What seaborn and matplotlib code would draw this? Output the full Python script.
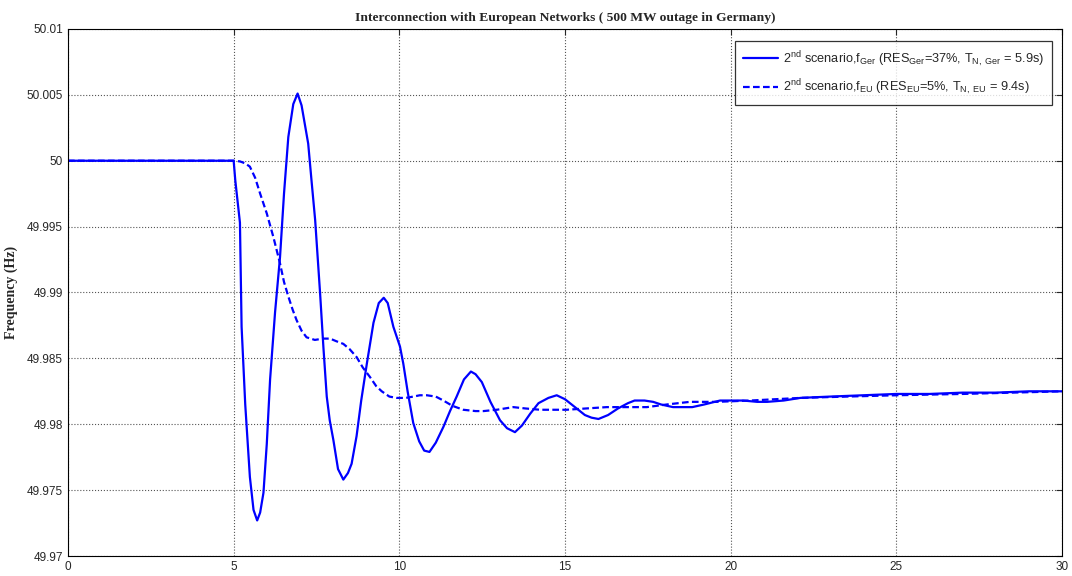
import pandas as pd
import matplotlib
matplotlib.use('Agg')
import matplotlib.pyplot as plt
import seaborn as sns

# time axis (s) and frequency (Hz)
t_ger = [0, 5.0, 5.05, 5.19, 5.24, 5.35, 5.49, 5.6, 5.71, 5.8, 5.9, 6.0, 6.1, 6.25, 6.4, 6.52,
         6.65, 6.8, 6.93, 7.05, 7.25, 7.35, 7.46, 7.61, 7.71, 7.81, 7.9, 8.01, 8.15, 8.31, 8.45,
         8.56, 8.71, 8.85, 9.02, 9.22, 9.38, 9.53, 9.65, 9.82, 10.02, 10.12, 10.25, 10.42, 10.6,
         10.75, 10.91, 11.1, 11.33, 11.53, 11.73, 11.95, 12.16, 12.3, 12.49, 12.75, 13.04, 13.25,
         13.49, 13.7, 13.95, 14.2, 14.5, 14.75, 15.0, 15.3, 15.6, 15.8, 16.01, 16.3, 16.6, 16.9,
         17.1, 17.4, 17.66, 17.9, 18.26, 18.6, 18.84, 19.2, 19.68, 20.38, 20.8, 21.1, 21.6, 22.1,
         23, 24, 25, 26, 27, 28, 29, 30]
f_ger = [50.0, 50.0, 49.9985, 49.9953, 49.9874, 49.9815, 49.9760, 49.9735, 49.9727, 49.9733,
         49.9748, 49.9785, 49.9834, 49.9885, 49.9927, 49.9975, 50.0018, 50.0043, 50.0051, 50.0042,
         50.0013, 49.9985, 49.9955, 49.9899, 49.9858, 49.9821, 49.9803, 49.9788, 49.9766, 49.9758,
         49.9763, 49.9770, 49.9791, 49.9818, 49.9846, 49.9877, 49.9892, 49.9896, 49.9892, 49.9874,
         49.9859, 49.9846, 49.9825, 49.9801, 49.9787, 49.9780, 49.9779, 49.9786, 49.9798, 49.9810,
         49.9821, 49.9834, 49.9840, 49.9838, 49.9832, 49.9817, 49.9803, 49.9797, 49.9794, 49.9799,
         49.9808, 49.9816, 49.9820, 49.9822, 49.9819, 49.9813, 49.9807, 49.9805, 49.9804, 49.9807,
         49.9812, 49.9816, 49.9818, 49.9818, 49.9817, 49.9815, 49.9813, 49.9813, 49.9813, 49.9815,
         49.9818, 49.9818, 49.9817, 49.9817, 49.9818, 49.9820, 49.9821, 49.9822, 49.9823, 49.9823,
         49.9824, 49.9824, 49.9825, 49.9825]

t_eu = [0, 5.0, 5.19, 5.35, 5.49, 5.65, 5.8, 6.0, 6.2, 6.4, 6.52, 6.65, 6.78, 6.9, 7.05, 7.2,
        7.45, 7.7, 7.91, 8.1, 8.31, 8.5, 8.71, 8.9, 9.11, 9.3, 9.47, 9.7, 9.92, 10.2, 10.42,
        10.62, 10.83, 11.1, 11.33, 11.6, 11.93, 12.3, 12.54, 12.94, 13.44, 13.8, 14.25, 15.05,
        15.65, 16.26, 17.47, 18.07, 18.77, 19.58, 20.59, 22.1, 23.5, 25, 27, 28.5, 30]
f_eu = [50.0, 50.0, 49.99995, 49.9998, 49.99955, 49.9987, 49.9975, 49.9960, 49.9942, 49.9922,
        49.9908, 49.9897, 49.9887, 49.9879, 49.9871, 49.9866, 49.9864, 49.9865, 49.9865, 49.9863,
        49.9861, 49.9857, 49.9851, 49.9843, 49.9836, 49.9829, 49.9825, 49.9821, 49.9820, 49.9820,
        49.9821, 49.9822, 49.9822, 49.9821, 49.9818, 49.9814, 49.9811, 49.9810, 49.9810, 49.9811,
        49.9813, 49.9812, 49.9811, 49.9811, 49.9812, 49.9813, 49.9813, 49.9815, 49.9817, 49.9817,
        49.9818, 49.9820, 49.9821, 49.9822, 49.9823, 49.9824, 49.9825]

lbl_ger = r'2$^{\rm nd}$ scenario,f$_{\rm Ger}$ (RES$_{\rm Ger}$=37%, T$_{\rm N,\ Ger}$ = 5.9s)'
lbl_eu = r'2$^{\rm nd}$ scenario,f$_{\rm EU}$ (RES$_{\rm EU}$=5%, T$_{\rm N,\ EU}$ = 9.4s)'

yticks = [49.97, 49.975, 49.98, 49.985, 49.99, 49.995, 50.0, 50.005, 50.01]
ytick_labels = ['49.97', '49.975', '49.98', '49.985', '49.99', '49.995', '50', '50.005', '50.01']
xticks = [0, 5, 10, 15, 20, 25, 30]

sns.set_style('white')
plt.rcParams['font.family'] = ['Liberation Sans', 'DejaVu Sans']
plt.rcParams['mathtext.fontset'] = 'custom'
plt.rcParams['mathtext.rm'] = 'Liberation Sans'
plt.rcParams['mathtext.it'] = 'Liberation Sans:italic'

df = pd.concat([
    pd.DataFrame({'t': t_ger, 'f': f_ger, 'series': lbl_ger}),
    pd.DataFrame({'t': t_eu, 'f': f_eu, 'series': lbl_eu}),
])

fig = plt.figure(figsize=(10.72, 5.76), dpi=100)
ax = fig.add_axes([0.0634, 0.0347, 0.9273, 0.915])

sns.lineplot(data=df, x='t', y='f', hue='series', style='series',
             palette=['#0000ff', '#0000ff'], dashes=[(None, None), (3, 1.5)],
             linewidth=1.6, ax=ax, sort=False, estimator=None)

ax.set_xlim(0, 30)
ax.set_ylim(49.97, 50.01)
ax.set_xticks(xticks)
ax.set_yticks(yticks)
ax.set_yticklabels(ytick_labels)
ax.tick_params(labelsize=8.5, direction='in', length=4, top=True, right=True)
ax.grid(True, linestyle=':', color='#555555', linewidth=0.8)
for s in ax.spines.values():
    s.set_color('black')
    s.set_linewidth(0.8)

ax.set_xlabel('')
ax.set_ylabel('Frequency (Hz)', fontsize=10, fontweight='bold', family='Liberation Serif', labelpad=6)
ax.set_title('Interconnection with European Networks ( 500 MW outage in Germany)',
             fontsize=9.7, fontweight='bold', family='Liberation Serif', pad=6)

leg = ax.legend(loc='upper right', bbox_to_anchor=(0.996, 0.989), fontsize=9.2,
                frameon=True, fancybox=False, edgecolor='black', handlelength=2.7,
                handletextpad=0.4, borderpad=0.6, labelspacing=0.7)
leg.get_frame().set_linewidth(0.9)

fig.savefig('out.png', dpi=100)
